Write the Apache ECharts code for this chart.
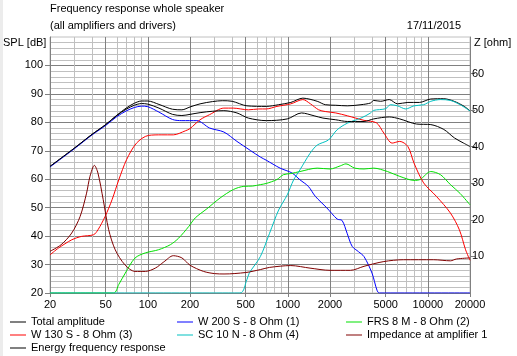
<!DOCTYPE html>
<html><head><meta charset="utf-8">
<script src="https://cdn.jsdelivr.net/npm/echarts@6/dist/echarts.min.js"></script>
<style>html,body{margin:0;padding:0;background:#fff}#c{width:517px;height:356px}</style>
</head><body><div id="c"></div><script>
// ---------- data (frequency in Hz, SPL in dB, impedance in ohm) ----------
const totalFreq = [20, 30, 40, 50, 60, 70, 80, 90, 100, 120, 150, 175, 200, 236, 290, 340, 400, 510, 700, 860, 1050, 1280, 1620, 1850, 2200, 2660, 3330, 3900, 4100, 4600, 5300, 6070, 7200, 8700, 10500, 13000, 15400, 18200, 20000];
const totalDb   = [64.5, 71, 75.8, 79.2, 82.5, 85, 86.7, 87.5, 87.5, 86.3, 84.6, 84.4, 85.4, 86.5, 87.3, 87.6, 87.4, 85.8, 85.6, 86.2, 87, 88.5, 87.4, 86.2, 86, 85.8, 86.2, 86.8, 87.7, 87.4, 88, 86.5, 87, 87, 88.2, 88.3, 87.4, 85.6, 84];

const energyFreq = [20, 30, 40, 50, 60, 70, 80, 90, 100, 120, 150, 175, 200, 236, 290, 349, 433, 522, 700, 990, 1250, 1540, 1780, 2200, 2660, 3500, 4100, 5300, 6300, 8300, 10500, 13000, 15500, 18000, 20000];
const energyDb   = [64.5, 71, 75.8, 79.2, 82.4, 84.6, 86, 86.6, 86.4, 85, 82.8, 82.4, 82.8, 83.4, 83.9, 84.1, 83.3, 81.5, 80.6, 81.2, 83.3, 82.3, 81.5, 80.9, 80.3, 80.3, 81.2, 81.9, 81.2, 79.4, 79.2, 77.5, 74.5, 72.7, 71.5];

const w200Freq = [20, 30, 40, 50, 60, 70, 80, 90, 100, 120, 150, 175, 224, 276, 349, 433, 540, 636, 700, 880, 1070, 1220, 1400, 1570, 1900, 2250, 2440, 2650, 2880, 3200, 3500, 3990, 4330, 4500, 20000];
const w200Db   = [64.3, 70.8, 75.6, 78.9, 82, 84, 85.2, 85.7, 85.5, 83.6, 81, 80.6, 80.6, 78, 76.6, 73.3, 70.1, 67.8, 66.7, 63.9, 62.2, 59.8, 57.5, 54, 49.9, 46, 45.5, 41, 36.4, 34.5, 32.8, 27, 21, 20, 20];

const frsFreq = [20, 57, 62, 69, 81, 96, 119, 145, 166, 196, 218, 264, 328, 409, 485, 560, 636, 700, 836, 930, 1050, 1220, 1620, 2000, 2370, 2600, 3000, 3500, 4100, 5150, 6300, 7960, 8800, 10500, 12300, 14500, 17000, 20000];
const frsDb   = [20, 20, 23, 27, 32.3, 34.1, 35.2, 37, 39.3, 43.4, 46.4, 49.6, 53.4, 56.4, 57.5, 57.6, 58.1, 58.5, 59.9, 61.6, 62, 62.7, 63.9, 63.6, 64.7, 65.4, 63.9, 63.6, 63.9, 62.7, 61, 59.6, 59.9, 62.7, 61.6, 58.1, 55, 51];

const w130Freq = [20, 23, 28.6, 33.6, 41, 44, 49.5, 55.5, 62, 70.5, 83, 101, 126, 152, 185, 200, 236, 276, 349, 407, 522, 620, 700, 836, 1050, 1280, 1450, 1660, 1850, 2200, 2660, 3500, 4300, 4850, 5560, 6300, 7200, 7960, 9330, 11500, 14500, 16800, 18600, 20000];
const w130Db   = [33.4, 35.8, 38.7, 39.9, 40.5, 42.2, 46.9, 52.8, 59.8, 66.9, 72.7, 75.4, 75.6, 75.6, 77, 77.8, 80.9, 82.7, 85, 85, 84.4, 84.7, 84.7, 85.6, 86.5, 88, 86.5, 84.4, 83.8, 83.3, 82.3, 80.7, 79.8, 76.2, 72.7, 73.3, 71.5, 65.7, 58.7, 54, 48.1, 42.2, 35.2, 31.5];

const sc10Freq = [20, 455, 510, 530, 636, 740, 860, 990, 1100, 1220, 1440, 1620, 1950, 2250, 2660, 3330, 3900, 4100, 5000, 5400, 6070, 6950, 7960, 9330, 10500, 12300, 14500, 17000, 20000];
const sc10Db   = [20, 20, 24.7, 27, 32.8, 41, 49.2, 54.5, 59.8, 63.3, 69.1, 72, 73.8, 77.4, 79.7, 81.5, 83.3, 84.2, 84.8, 86.2, 85.8, 84.7, 85.8, 86.2, 87.4, 88, 87.7, 86.2, 84];

const impFreq = [20, 24, 28.6, 32.8, 36.5, 38.6, 41.5, 44, 48, 52.5, 58.5, 68.6, 81, 96, 113, 130, 152, 175, 200, 250, 300, 350, 500, 636, 740, 1050, 1440, 2000, 2800, 3500, 4850, 6700, 11000, 14500, 16000, 20000];
const impOhm  = [11.4, 13.2, 16.4, 20.9, 27.3, 31.9, 34.9, 32.8, 25.5, 17.3, 11.8, 7.7, 5.9, 5.9, 6.8, 8.5, 10.2, 9.6, 7.6, 5.9, 5.3, 5.2, 5.6, 6.4, 7.0, 7.5, 6.8, 6.2, 6.2, 7.3, 8.6, 9.1, 9.1, 8.8, 9.3, 9.6];

const majorFreqTicks = [20, 50, 100, 200, 500, 1000, 2000, 5000, 10000, 20000];
const minorFreqTicks = [30, 40, 60, 70, 80, 90, 300, 400, 600, 700, 800, 900, 3000, 4000, 6000, 7000, 8000, 9000];
const splTicks = [20, 30, 40, 50, 60, 70, 80, 90, 100];
const ohmTicks = [10, 20, 30, 40, 50, 60];

const seriesNames = ['Total amplitude', 'W 200 S - 8 Ohm (1)', 'FRS 8 M - 8 Ohm (2)', 'W 130 S - 8 Ohm (3)', 'SC 10 N - 8 Ohm (4)', 'Impedance at amplifier 1', 'Energy frequency response'];
// ---------------------------------------------------------------------------

const FONT = "'Liberation Sans', Arial, sans-serif";
const pair = (xs, ys) => xs.map((x, i) => [x, ys[i]]);
const lg = v => Math.log10(v);
const fMin = 20, fMax = 20000;

function mkSeries(name, xs, ys, color, yIdx) {
  return {
    name, type: 'line', xAxisIndex: 0, yAxisIndex: yIdx || 0,
    data: pair(xs, ys), color: color, showSymbol: false, smooth: 0.3,
    lineStyle: { color: color, width: 1 }, itemStyle: { color: color },
    emphasis: { disabled: true }, animation: false
  };
}

const txt = { fontSize: 11, fontWeight: 'normal', color: '#000', fontFamily: FONT, lineHeight: 13 };
const legendBase = {
  orient: 'vertical', itemWidth: 16, itemHeight: 1, itemGap: 0, padding: 0,
  icon: 'path://M0,0L16,0L16,1L0,1Z', selectedMode: false,
  itemStyle: { borderWidth: 0 },
  textStyle: { fontSize: 11, color: '#000', fontFamily: FONT, lineHeight: 13 }
};

const option = {
  animation: false,
  backgroundColor: '#ffffff',
  graphic: [{ type: 'rect', shape: { x: 0, y: 0, width: 3, height: 356 }, style: { fill: '#ececec' } }],
  title: [
    { text: 'Frequency response whole speaker', left: 50, top: 2.5, padding: 0, textStyle: txt },
    { text: '(all amplifiers and drivers)', left: 50, top: 19.5, padding: 0, textStyle: txt },
    { text: '17/11/2015', right: 56, top: 19.5, padding: 0, textStyle: txt },
    { text: 'SPL [dB]', left: 3, top: 36.5, padding: 0, textStyle: txt },
    { text: 'Z [ohm]', left: 474, top: 36.5, padding: 0, textStyle: txt }
  ],
  legend: [
    Object.assign({}, legendBase, { data: [seriesNames[0], seriesNames[3], seriesNames[6]], left: 10, top: 315.5 }),
    Object.assign({}, legendBase, { data: [seriesNames[1], seriesNames[4]], left: 177, top: 315.5 }),
    Object.assign({}, legendBase, { data: [seriesNames[2], seriesNames[5]], left: 346, top: 315.5 })
  ],
  grid: { left: 50, right: 47, top: 37, bottom: 63, show: true, borderColor: '#c0c0c0', borderWidth: 1, containLabel: false },
  xAxis: [
    { type: 'log', logBase: 10, min: fMin, max: fMax, show: false },
    {
      type: 'value', min: lg(fMin), max: lg(fMax), position: 'bottom',
      axisLine: { show: true, onZero: false, lineStyle: { color: '#808080', width: 1 } },
      axisTick: { show: true, customValues: majorFreqTicks.map(lg), length: 4, lineStyle: { color: '#808080' } },
      axisLabel: { show: true, customValues: majorFreqTicks.map(lg), margin: 6, color: '#000', fontSize: 11, fontFamily: FONT,
        formatter: v => String(Math.round(Math.pow(10, v))) },
      splitLine: { show: true, lineStyle: { color: '#808080', width: 1 } }
    },
    {
      type: 'value', min: lg(fMin), max: lg(fMax), position: 'top',
      axisLine: { show: false }, axisLabel: { show: false },
      axisTick: { show: false, customValues: minorFreqTicks.map(lg) },
      splitLine: { show: true, lineStyle: { color: '#c0c0c0', width: 1 } }
    }
  ],
  yAxis: [
    {
      type: 'value', min: 20, max: 110, interval: 10, position: 'left',
      axisLine: { show: true, onZero: false, lineStyle: { color: '#808080' } },
      axisTick: { show: true, customValues: splTicks, length: 5, lineStyle: { color: '#808080' } },
      axisLabel: { customValues: splTicks, margin: 7, color: '#000', fontSize: 11, fontFamily: FONT },
      splitLine: { show: true, lineStyle: { color: '#808080' } },
      minorTick: { show: false, splitNumber: 5 },
      minorSplitLine: { show: true, lineStyle: { color: '#c0c0c0' } }
    },
    {
      type: 'value', min: 0, max: 70, interval: 10, position: 'right',
      axisLine: { show: true, onZero: false, lineStyle: { color: '#808080' } },
      axisTick: { show: true, customValues: ohmTicks, length: 5, lineStyle: { color: '#808080' } },
      axisLabel: { customValues: ohmTicks, margin: 2, color: '#000', fontSize: 11, fontFamily: FONT },
      splitLine: { show: false }
    }
  ],
  series: [
    mkSeries(seriesNames[0], totalFreq, totalDb, '#000000'),
    mkSeries(seriesNames[1], w200Freq, w200Db, '#0000ff'),
    mkSeries(seriesNames[2], frsFreq, frsDb, '#00e000'),
    mkSeries(seriesNames[3], w130Freq, w130Db, '#ff0000'),
    mkSeries(seriesNames[4], sc10Freq, sc10Db, '#00c0c0'),
    mkSeries(seriesNames[5], impFreq, impOhm, '#800000', 1),
    mkSeries(seriesNames[6], energyFreq, energyDb, '#000000')
  ]
};

const chart = echarts.init(document.getElementById('c'), null, { renderer: 'canvas' });
chart.setOption(option);
</script></body></html>
